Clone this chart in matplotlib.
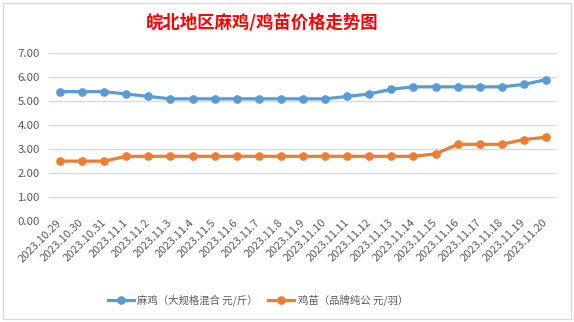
import matplotlib
matplotlib.use("Agg")
import matplotlib.pyplot as plt
import matplotlib.transforms as mtransforms
from matplotlib.patches import Rectangle

plt.rcParams['font.family'] = ['Noto Sans CJK SC', 'DejaVu Sans']

dates = ["2023.10.29", "2023.10.30", "2023.10.31", "2023.11.1", "2023.11.2", "2023.11.3",
         "2023.11.4", "2023.11.5", "2023.11.6", "2023.11.7", "2023.11.8", "2023.11.9",
         "2023.11.10", "2023.11.11", "2023.11.12", "2023.11.13", "2023.11.14", "2023.11.15",
         "2023.11.16", "2023.11.17", "2023.11.18", "2023.11.19", "2023.11.20"]
maji = [5.4, 5.4, 5.4, 5.3, 5.2, 5.1, 5.1, 5.1, 5.1, 5.1, 5.1, 5.1, 5.1,
        5.2, 5.3, 5.5, 5.6, 5.6, 5.6, 5.6, 5.6, 5.7, 5.9]
jimiao = [2.5, 2.5, 2.5, 2.7, 2.7, 2.7, 2.7, 2.7, 2.7, 2.7, 2.7, 2.7, 2.7,
          2.7, 2.7, 2.7, 2.7, 2.8, 3.2, 3.2, 3.2, 3.4, 3.5]
series_names = ["麻鸡（大规格混合 元/斤）", "鸡苗（品牌纯公 元/羽）"]
yticks = [0, 1, 2, 3, 4, 5, 6, 7]
title = "皖北地区麻鸡/鸡苗价格走势图"

W, H = 574, 322
fig = plt.figure(figsize=(W / 100, H / 100), dpi=100)
fig.patch.set_facecolor("white")
fig.patches.append(Rectangle((2.5 / W, 3 / H), 568.5 / W, 316 / H, transform=fig.transFigure,
                             fill=False, edgecolor="#D9D9D9", linewidth=1.0))

ax = fig.add_axes([49 / W, 1 - 221 / H, 508 / W, (221 - 53.3) / H])
x = list(range(len(dates)))
ax.plot(x, maji, color="#5B9BD5", lw=2.3, marker="o", ms=5.2, label=series_names[0])
ax.plot(x, jimiao, color="#ED7D31", lw=2.3, marker="o", ms=5.2, label=series_names[1])

ax.set_xlim(-0.5, len(dates) - 0.5)
ax.set_ylim(0, 7)
ax.set_yticks(yticks)
ax.set_yticklabels([f"{v:.2f}" for v in yticks], fontsize=8.2, color="#595959")
ax.set_xticks(x)
ax.set_xticklabels(dates, rotation=45, ha="right", va="center", rotation_mode="anchor",
                   fontsize=8.0, color="#595959")
offset = mtransforms.ScaledTranslation(7 / 100, -10 / 100, fig.dpi_scale_trans)
for lbl in ax.get_xticklabels():
    lbl.set_transform(lbl.get_transform() + offset)
ax.tick_params(axis="both", length=0)
ax.tick_params(axis="y", pad=6.5)
ax.tick_params(axis="x", pad=0)
for s in ax.spines.values():
    s.set_visible(False)
ax.grid(axis="y", color="#D9D9D9", lw=1.0)
ax.set_axisbelow(True)

fig.text(262 / W, 1 - 23 / H, title, color="#FF0000", fontsize=12.5, fontweight="bold",
         ha="center", va="center")

fig.legend(loc="center", bbox_to_anchor=(258 / W, 1 - 300 / H), ncol=2, frameon=False,
           fontsize=7.5, handlelength=2.5, columnspacing=1.0, handletextpad=0.3,
           labelcolor="#595959")

fig.savefig("out.png", dpi=100, facecolor="white")
